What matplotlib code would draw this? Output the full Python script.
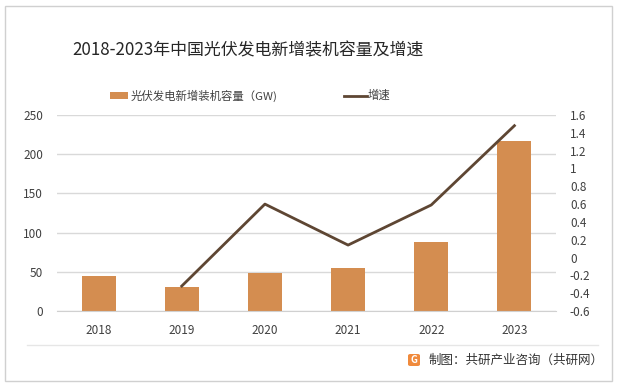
import matplotlib
matplotlib.use("Agg")
import matplotlib.pyplot as plt
from matplotlib.patches import Rectangle, FancyBboxPatch
from matplotlib.lines import Line2D

plt.rcParams['font.family'] = ['Noto Sans CJK SC', 'DejaVu Sans']

years = ['2018', '2019', '2020', '2021', '2022', '2023']
capacity = [44.26, 30.11, 48.2, 54.88, 87.41, 216.88]
growth_years = ['2019', '2020', '2021', '2022', '2023']
growth = [-0.32, 0.60, 0.14, 0.59, 1.48]
left_ticks = [0, 50, 100, 150, 200, 250]
right_ticks = [-0.6, -0.4, -0.2, 0, 0.2, 0.4, 0.6, 0.8, 1, 1.2, 1.4, 1.6]
right_labels = ['-0.6', '-0.4', '-0.2', '0', '0.2', '0.4', '0.6', '0.8', '1', '1.2', '1.4', '1.6']

bar_color = '#D48D50'
line_color = '#5E4633'
tick_color = '#404040'
grid_color = '#D9D9D9'

W, H = 618, 386
fig = plt.figure(figsize=(W / 100, H / 100), dpi=100)
fig.patch.set_facecolor('white')

# outer border
fig.add_artist(Rectangle((5 / W, 5 / H), 607 / W, 375 / H, transform=fig.transFigure,
                         fill=False, edgecolor='#D0D0D0', linewidth=1))

ax = fig.add_axes([57 / W, 1 - 311 / H, (556 - 57) / W, (311 - 115) / H])
x = list(range(len(years)))
ax.bar(x, capacity, width=0.41, color=bar_color, zorder=2)
ax.set_xlim(-0.5, len(years) - 0.5)
ax.set_ylim(0, 250)
ax.set_yticks(left_ticks)
ax.set_xticks(x)
ax.set_xticklabels(years)
ax.yaxis.grid(True, color=grid_color, linewidth=1)
ax.set_axisbelow(True)
for s in ['top', 'right', 'left']:
    ax.spines[s].set_visible(False)
ax.spines['bottom'].set_color('#D0D0D0')
ax.tick_params(axis='both', length=0, labelsize=8.5, colors=tick_color)
ax.tick_params(axis='y', pad=10)
ax.tick_params(axis='x', pad=9)

ax2 = ax.twinx()
gx = [years.index(y) for y in growth_years]
ax2.plot(gx, growth, color=line_color, linewidth=2, zorder=3)
ax2.set_ylim(-0.6, 1.6)
ax2.set_yticks(right_ticks)
ax2.set_yticklabels(right_labels)
for s in ['top', 'right', 'left', 'bottom']:
    ax2.spines[s].set_visible(False)
ax2.tick_params(axis='y', length=0, labelsize=8.5, colors=tick_color, pad=10)
for lbl in ax2.get_yticklabels():
    lbl.set_horizontalalignment('left')

# title
fig.text(0.5 * (75 + 420) / W, 1 - 50 / H, '2018-2023年中国光伏发电新增装机容量及增速',
         ha='center', va='center', fontsize=12.2, color='#262626', fontweight='light')

# legend
fig.add_artist(Rectangle((110 / W, 1 - 99 / H), 18 / W, 7 / H, transform=fig.transFigure,
                         facecolor=bar_color, edgecolor='none'))
fig.text(131 / W, 1 - 95.5 / H, '光伏发电新增装机容量（GW)', ha='left', va='center',
         fontsize=8.2, color=tick_color)
fig.add_artist(Line2D([344 / W, 367 / W], [1 - 95.5 / H, 1 - 95.5 / H], transform=fig.transFigure,
                      color=line_color, linewidth=2))
fig.text(368 / W, 1 - 95.5 / H, '增速', ha='left', va='center', fontsize=8.2, color=tick_color)

# footer
fig.add_artist(Line2D([27 / W, 598 / W], [1 - 345 / H, 1 - 345 / H], transform=fig.transFigure,
                      color='#E6E6E6', linewidth=1))
fig.add_artist(FancyBboxPatch((408 / W, 1 - 366 / H), 12 / W, 12 / H,
                              boxstyle='round,pad=0,rounding_size=0.004',
                              transform=fig.transFigure, facecolor='#F08A3C', edgecolor='none'))
fig.text(414 / W, 1 - 360 / H, 'G', ha='center', va='center', fontsize=7,
         color='white', fontweight='bold')
fig.text(429 / W, 1 - 360 / H, '制图：共研产业咨询（共研网）', ha='left', va='center',
         fontsize=9, color='#333333')

fig.savefig('out.png', dpi=100)
